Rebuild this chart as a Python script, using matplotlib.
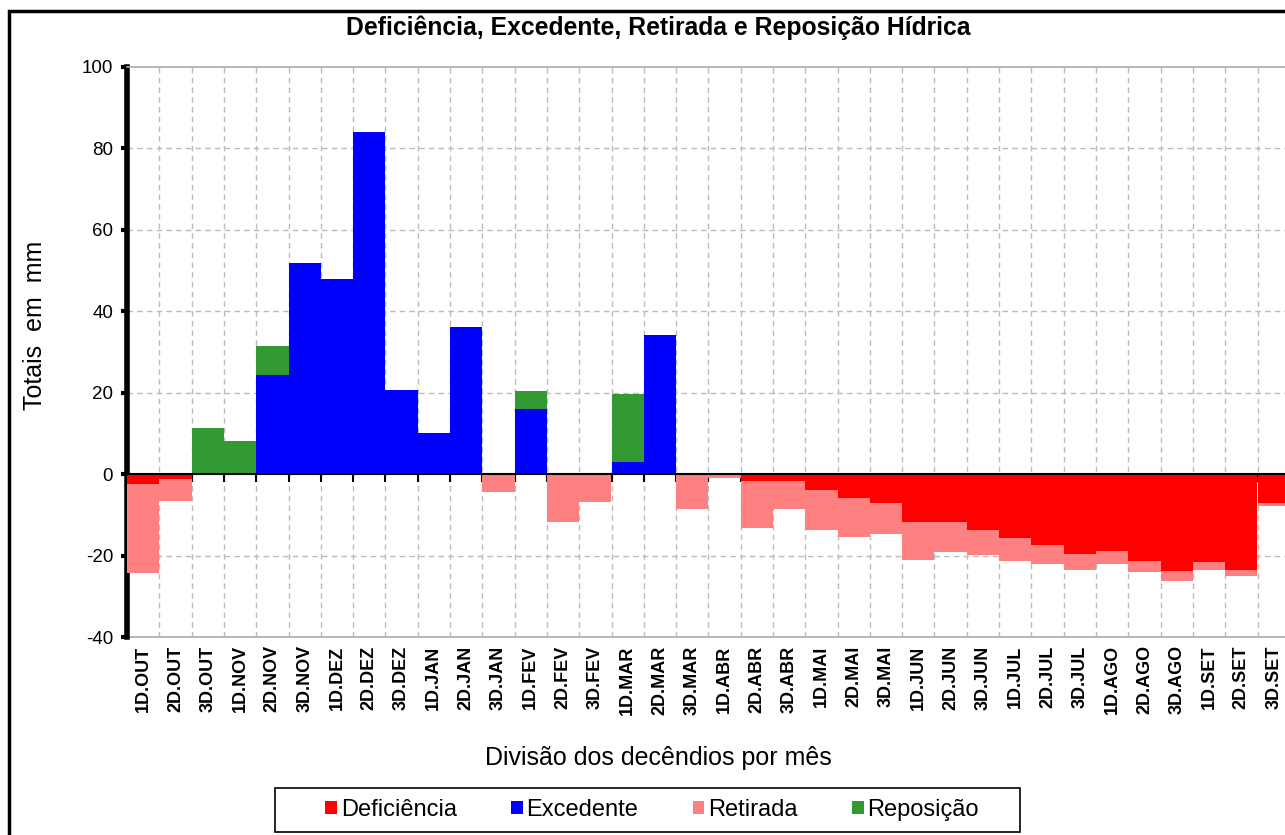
import matplotlib
matplotlib.use("Agg")
import matplotlib.pyplot as plt
from matplotlib.patches import Patch, Rectangle
import numpy as np

plt.rcParams['font.family'] = ['Liberation Sans', 'DejaVu Sans']

categories = ["1D.OUT", "2D.OUT", "3D.OUT", "1D.NOV", "2D.NOV", "3D.NOV",
              "1D.DEZ", "2D.DEZ", "3D.DEZ", "1D.JAN", "2D.JAN", "3D.JAN",
              "1D.FEV", "2D.FEV", "3D.FEV", "1D.MAR", "2D.MAR", "3D.MAR",
              "1D.ABR", "2D.ABR", "3D.ABR", "1D.MAI", "2D.MAI", "3D.MAI",
              "1D.JUN", "2D.JUN", "3D.JUN", "1D.JUL", "2D.JUL", "3D.JUL",
              "1D.AGO", "2D.AGO", "3D.AGO", "1D.SET", "2D.SET", "3D.SET"]

excedente = [0, 0, 0, 0, 24.3, 51.8, 47.9, 84.0, 20.6, 10.1, 36.1, 0,
             16.0, 0, 0, 2.9, 34.1, 0, 0, 0, 0, 0, 0, 0,
             0, 0, 0, 0, 0, 0, 0, 0, 0, 0, 0, 0]
reposicao = [0, 0, 11.3, 8.1, 7.1, 0, 0, 0, 0, 0, 0, 0,
             4.4, 0, 0, 16.7, 0, 0, 0, 0, 0, 0, 0, 0,
             0, 0, 0, 0, 0, 0, 0, 0, 0, 0, 0, 0]
deficiencia = [2.5, 1.3, 0, 0, 0, 0, 0, 0, 0, 0, 0, 0,
               0, 0, 0, 0, 0, 0, 0, 1.7, 1.7, 4.0, 5.9, 7.1,
               11.7, 11.7, 13.6, 15.6, 17.5, 19.6, 18.9, 21.3, 23.9, 21.7, 23.6, 7.2]
retirada = [21.8, 5.3, 0, 0, 0, 0, 0, 0, 0, 0, 0, 4.4,
            0, 11.8, 6.9, 0, 0, 8.6, 1.0, 11.6, 6.9, 9.6, 9.5, 7.6,
            9.5, 7.4, 6.3, 5.7, 4.5, 4.0, 3.1, 2.7, 2.4, 1.9, 1.5, 0.6]

yticks = [-40, -20, 0, 20, 40, 60, 80, 100]

C_DEF = "#FF0000"
C_EXC = "#0000FF"
C_RET = "#FF8080"
C_REP = "#339933"

W, H = 1285, 835
fig = plt.figure(figsize=(W / 100, H / 100), dpi=100)
fig.patch.set_facecolor("white")

# outer frame (extends past the right and bottom edges)
fig.patches.append(Rectangle((9 / W, -0.1), 1.2, 1 - 11 / H + 0.1,
                             transform=fig.transFigure, fill=False,
                             edgecolor="black", linewidth=2.5, zorder=0))

left, right = 127, 127 + 36 * 32.3
top, bottom = 67, 637
ax = fig.add_axes([left / W, 1 - bottom / H, (right - left) / W, (bottom - top) / H])

x = np.arange(len(categories))
exc = np.array(excedente)
rep = np.array(reposicao)
dfc = np.array(deficiencia)
ret = np.array(retirada)

ax.bar(x, exc, width=1.0, align="edge", color=C_EXC, zorder=3)
ax.bar(x, rep, width=1.0, bottom=exc, align="edge", color=C_REP, zorder=3)
ax.bar(x, -dfc, width=1.0, align="edge", color=C_DEF, zorder=3)
ax.bar(x, -ret, width=1.0, bottom=-dfc, align="edge", color=C_RET, zorder=3)

ax.set_xlim(0, len(categories))
ax.set_ylim(-40, 100)

# grid
for yv in [-20, 20, 40, 60, 80]:
    ax.axhline(yv, color="#BBBBBB", linestyle=(0, (4, 3)), linewidth=1, zorder=1)
for xv in range(1, len(categories) + 1):
    ax.axvline(xv, color="#BBBBBB", linestyle=(0, (4, 3)), linewidth=1, zorder=1)

# spines
ax.spines["left"].set_linewidth(4)
ax.spines["left"].set_color("black")
ax.spines["top"].set_color("#AAAAAA")
ax.spines["top"].set_linewidth(1.2)
ax.spines["right"].set_visible(False)
ax.spines["bottom"].set_position(("data", 0))
ax.spines["bottom"].set_color("black")
ax.spines["bottom"].set_linewidth(1.5)
ax.spines["bottom"].set_zorder(5)

ax.set_yticks(yticks)
ax.set_yticklabels([str(v) for v in yticks], fontsize=13.5)
ax.tick_params(axis="y", direction="out", length=4, width=3, pad=6, color="black")

ax.set_xticks(np.arange(1, len(categories) + 1))
ax.tick_params(axis="x", direction="out", length=6, width=1.5, labelbottom=False, color="black")

sec = ax.secondary_xaxis(0.0)
sec.set_xticks(x + 0.5)
sec.set_xticklabels(categories, rotation=90, fontsize=13, fontweight="bold")
sec.tick_params(length=0, pad=6)
sec.spines["bottom"].set_color("#AAAAAA")
sec.spines["bottom"].set_linewidth(1.2)

fig.text(658 / W, 1 - 28 / H, "Deficiência, Excedente, Retirada e Reposição Hídrica",
         ha="center", va="center", fontsize=17.8, fontweight="bold")
fig.text(35 / W, 1 - 325 / H, "Totais  em  mm", rotation=90, ha="center", va="center",
         fontsize=18)
fig.text(658 / W, 1 - 758 / H, "Divisão dos decêndios por mês", ha="center", va="center",
         fontsize=18)

# legend box
fig.patches.append(Rectangle((275 / W, 1 - 832 / H), (1020 - 275) / W, 44 / H,
                             transform=fig.transFigure, fill=True, facecolor="white",
                             edgecolor="black", linewidth=1.2, zorder=1))
handles = [Patch(facecolor=C_DEF), Patch(facecolor=C_EXC),
           Patch(facecolor=C_RET), Patch(facecolor=C_REP)]
labels = ["Deficiência", "Excedente", "Retirada", "Reposição"]
leg = fig.legend(handles, labels, loc="center", bbox_to_anchor=(652 / W, 1 - 810 / H),
                 ncol=4, fontsize=17, frameon=False,
                 handlelength=0.5, handleheight=0.5, handletextpad=0.15,
                 columnspacing=2.3, borderpad=0.0, borderaxespad=0)
leg.set_zorder(2)

fig.savefig("out.png", dpi=100, facecolor="white")
